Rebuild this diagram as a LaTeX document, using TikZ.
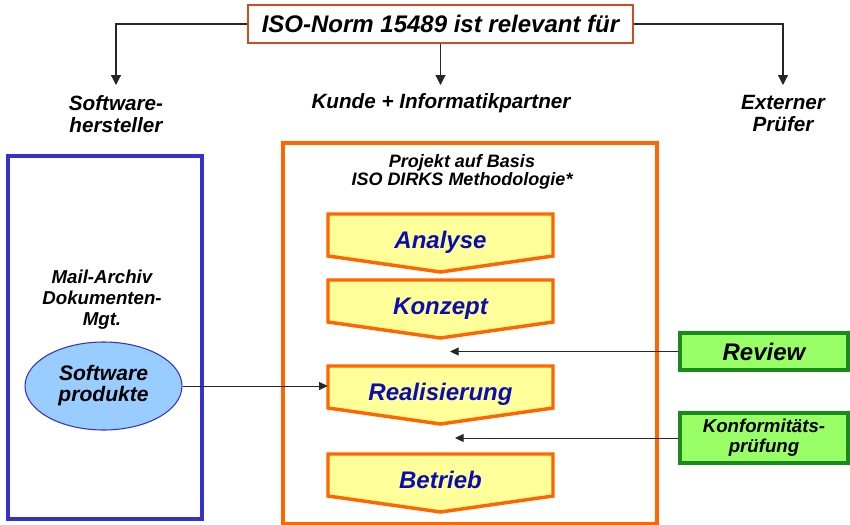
\documentclass[tikz,border=0pt]{standalone}
\usepackage{fontspec}
\setmainfont{Liberation Sans}
\usetikzlibrary{arrows.meta, calc, backgrounds, shapes.geometric}

\definecolor{isoorange}{RGB}{255,102,0}
\definecolor{isoyellow}{RGB}{255,255,153}
\definecolor{phaseblue}{RGB}{12,12,180}
\definecolor{swblue}{RGB}{51,51,204}
\definecolor{swlight}{RGB}{153,204,255}
\definecolor{checkgreen}{RGB}{153,255,102}
\definecolor{checkdark}{RGB}{26,138,26}
\definecolor{normred}{RGB}{210,75,30}

\tikzset{
  conn/.style={draw=black!85, line width=0.9pt, -{Triangle[width=7.5pt,length=7.5pt]}},
  feed/.style={draw=black!85, line width=0.75pt, -{Triangle[width=6pt,length=6.5pt]}},
  normbox/.style={draw=normred, line width=1.1pt, fill=white, minimum width=288.75pt, minimum height=28.5pt, inner sep=0pt, font=\bfseries\itshape\fontsize{18}{20}\selectfont},
  role/.style={align=center, inner sep=0pt, anchor=north, font=\bfseries\itshape\fontsize{15.5}{16.5}\selectfont},
  phase/.style={text=phaseblue, minimum width=168.75pt, inner sep=0pt, text height=12.9pt, text depth=0pt, font=\bfseries\itshape\fontsize{18}{20}\selectfont},
  phaseline/.style={draw=isoorange, line width=2.6pt, fill=isoyellow, line join=miter},
  produkt/.style={ellipse, draw=swblue, line width=0.8pt, fill=swlight, minimum width=117.75pt, minimum height=66pt, inner sep=0pt, align=center, font=\bfseries\itshape\fontsize{15.8}{15.75}\selectfont},
  check/.style={draw=checkdark, line width=2.6pt, fill=checkgreen, minimum width=126pt, inner sep=0pt, align=center}
}

\begin{document}
\begin{tikzpicture}[x=0.75pt,y=0.75pt,yscale=-1,xscale=1]
\useasboundingbox (0,0) rectangle (850,525);

% Frames
\draw [draw=swblue, line width=2.5pt] (8,156) rectangle (202,519);
\draw [draw=isoorange, line width=2.6pt] (283,143) rectangle (657,523.5);

% Text Node
\node [normbox] (norm) at (440.5,24) {ISO-Norm 15489 ist relevant für};
\node [role] (hersteller) at (116,95) {Software-\\hersteller};
\node [role] (kunde) at (441,93) {Kunde + Informatikpartner};
\node [role] (pruefer) at (783,95) {Externer\\Prüfer};

% Text Node
\node [align=center, font=\bfseries\itshape\fontsize{14}{15.75}\selectfont] (archiv) at (102,300) {Mail-Archiv\\Dokumenten-\\Mgt.};
\node [produkt] (produkte) at (103.5,386) {Software\\produkte};

% Text Node
\node [align=center, font=\bfseries\itshape\fontsize{13.5}{13.5}\selectfont] (projekt) at (462,172) {Projekt auf Basis\\ISO DIRKS Methodologie*};

% Phases
\node [phase] (analyse) at (440.5,240) {Analyse};
\node [phase] (konzept) at (440.5,306) {Konzept};
\node [phase] (real) at (440.5,392) {Realisierung};
\node [phase] (betrieb) at (440.5,480) {Betrieb};
\begin{scope}[on background layer]
\foreach \p in {analyse,konzept,real,betrieb}
  \draw [phaseline] ($(\p)+(-112.5,-26)$) -- ($(\p)+(112.5,-26)$) -- ($(\p)+(112.5,16)$) -- ($(\p)+(0,32)$) -- ($(\p)+(-112.5,16)$) -- cycle;
\end{scope}

% Checks
\node [check, minimum height=27.75pt, font=\bfseries\itshape\fontsize{18}{20}\selectfont] (review) at (764,351.5) {Review};
\node [check, minimum height=37.5pt, font=\bfseries\itshape\fontsize{14}{15}\selectfont] (konform) at (764,438) {Konformitäts-\\prüfung};
\coordinate (review-in) at (450,351.5);
\coordinate (konform-in) at (455,438);

%Straight Lines
\draw [conn, shorten >=7.5pt] (norm.west) -| (hersteller.north);
\draw [conn, shorten >=6pt] (norm.south) -- (kunde.north -| norm.south);
\draw [conn, shorten >=7.5pt] (norm.east) -| (pruefer.north);
\draw [feed] (produkte.east) -- (produkte.east -| real.west);
\draw [feed] (review.west) -- (review-in);
\draw [feed] (konform.west) -- (konform-in);

\end{tikzpicture}
\end{document}
